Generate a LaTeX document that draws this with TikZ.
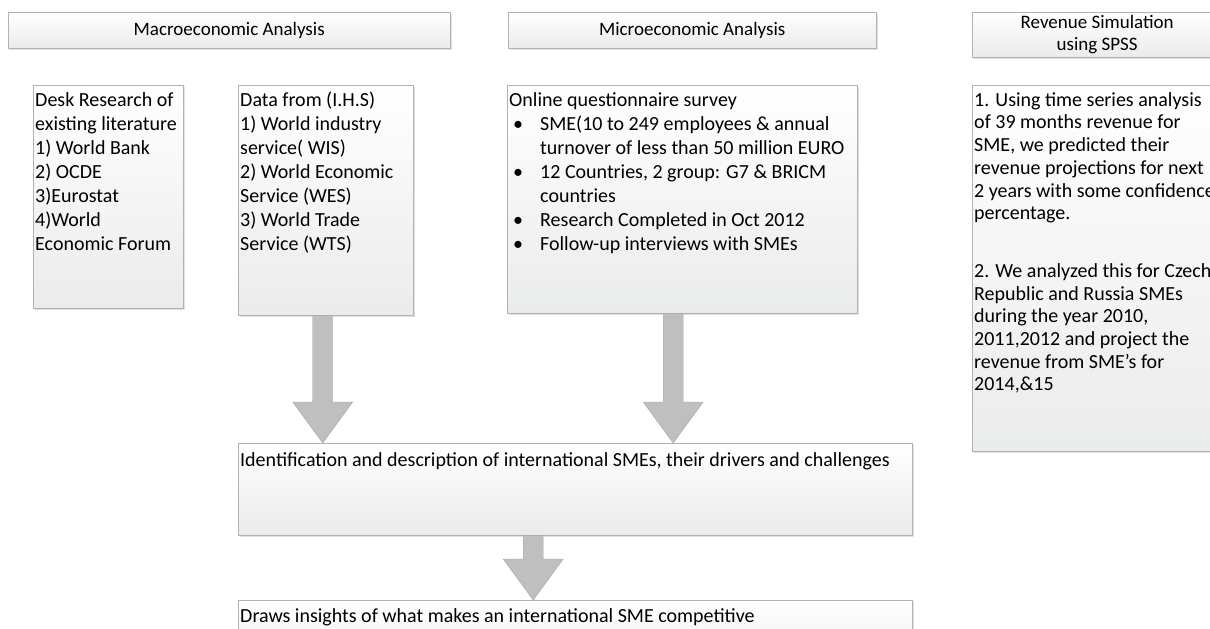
\documentclass[tikz,border=0pt]{standalone}
\usepackage{fontspec}
\setmainfont{Carlito}
\usetikzlibrary{calc,shadows}

\definecolor{boxline}{HTML}{B2B2B2}
\definecolor{boxlow}{HTML}{EAEBEC}
\definecolor{arrowfill}{HTML}{BFBFBF}
\definecolor{arrowline}{HTML}{A6A6A6}

\tikzset{
  panel/.style={draw=boxline, top color=white, bottom color=boxlow, anchor=north west,
    inner xsep=2pt, inner ysep=2pt, align=left,
    drop shadow={shadow xshift=2pt, shadow yshift=-2pt, fill=black!12, opacity=1},
    font=\fontsize{20}{24}\selectfont},
  header/.style={panel, align=center, inner sep=0pt, font=\fontsize{19}{22}\selectfont},
  bigarrow/.style={draw=arrowline, fill=arrowfill,
    to path={let \p1=(\tikztostart), \p2=(\tikztotarget) in
      (\x1-10pt,\y1) -- (\x1-10pt,\y2+41pt) -- (\x1-30pt,\y2+41pt) -- (\x1,\y2)
      -- (\x1+30pt,\y2+41pt) -- (\x1+10pt,\y2+41pt) -- (\x1+10pt,\y1) -- cycle}}
}

\begin{document}
\begin{tikzpicture}[x=1pt,y=-1pt]
            \useasboundingbox (0,0) rectangle (1210,629);
            \clip (0,0) rectangle (1210,629);

            % column headings
            \node[header, minimum width=442pt, minimum height=36pt] (macro) at (8,12) {Macroeconomic Analysis};
            \node[header, minimum width=368pt, minimum height=36pt] (micro) at (508,12) {Microeconomic Analysis};
            \node[header, minimum width=250pt, minimum height=45pt] (spss) at (972,12) {Revenue Simulation\\using SPSS};

            % sources
            \node[panel] (desk) at (33,85) {\parbox[t][219pt][t]{146pt}{\raggedright\rule{0pt}{19pt}Desk Research of\\existing literature\\1) World Bank\\2) OCDE\\3)Eurostat\\4)World\\Economic Forum}};
            \node[panel] (data) at (238,85) {\parbox[t][226pt][t]{171pt}{\raggedright\rule{0pt}{19pt}Data from (I.H.S)\\1) World industry\\service( WIS)\\2) World Economic\\Service (WES)\\3) World Trade\\Service (WTS)}};
            \node[panel] (survey) at (507,85) {\parbox[t][224pt][t]{346pt}{\raggedright\rule{0pt}{19pt}Online questionnaire survey\\
              \hspace*{4pt}\makebox[27pt][l]{\textbullet}SME(10 to 249 employees \& annual\\
              \hspace*{31pt}turnover of less than 50 million EURO\\
              \hspace*{4pt}\makebox[27pt][l]{\textbullet}12 Countries, 2 group: G7 \& BRICM\\
              \hspace*{31pt}countries\\
              \hspace*{4pt}\makebox[27pt][l]{\textbullet}Research Completed in Oct 2012\\
              \hspace*{4pt}\makebox[27pt][l]{\textbullet}Follow-up interviews with SMEs}};
            \node[panel, font=\fontsize{20}{22.7}\selectfont] (revenue) at (972,85) {\parbox[t][362pt][t]{246pt}{\raggedright\rule{0pt}{19pt}1. Using time series analysis\\of 39 months revenue for\\SME, we predicted their\\revenue projections for next\\2 years with some confidence\\percentage.\\[35pt]2. We analyzed this for Czech\\Republic and Russia SMEs\\during the year 2010,\\2011,2012 and project the\\revenue from SME's for\\2014,\&15}};

            % results
            \node[panel] (ident) at (238,443) {\parbox[t][88pt][t]{670pt}{\raggedright\rule{0pt}{21pt}Identification and description of international SMEs, their drivers and challenges}};
            \node[panel] (insight) at (238,600) {\parbox[t][80pt][t]{670pt}{\raggedright\rule{0pt}{20pt}Draws insights of what makes an international SME competitive}};

            \draw[bigarrow] ([xshift=-3pt]data.south) to (ident.north);
            \draw[bigarrow] ([xshift=-9pt]survey.south) to (ident.north);
            \draw[bigarrow] ([xshift=-42pt]ident.south) to (insight.north);
        \end{tikzpicture}
\end{document}
